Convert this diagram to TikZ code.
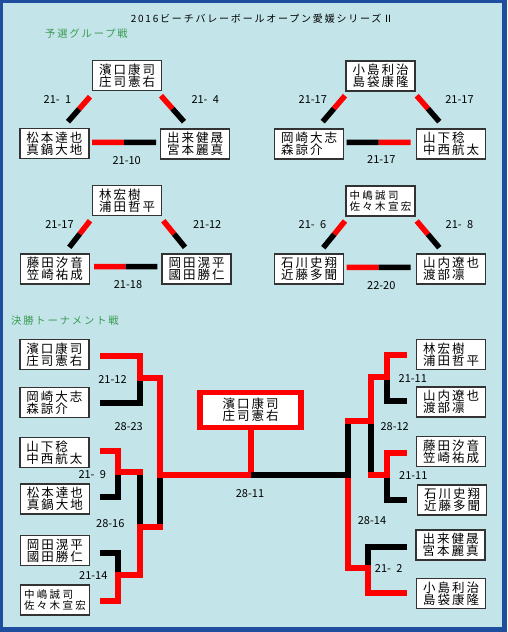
\documentclass[tikz,border=0pt]{standalone}
\usepackage{fontspec}
\setmainfont{Noto Sans CJK JP}
\newfontfamily\namefont[LetterSpace=16]{Noto Sans CJK JP}
\newfontfamily\namefontsm[LetterSpace=22]{Noto Sans CJK JP}
\newfontfamily\headfont[LetterSpace=18]{Noto Sans CJK JP}
\newfontfamily\numfont{Noto Sans CJK JP}
\usetikzlibrary{calc}
\definecolor{bgcyan}{HTML}{C3E5E9}
\definecolor{framebl}{HTML}{1F4E9E}
\definecolor{hdgreen}{HTML}{3A9A52}
\definecolor{wred}{HTML}{FF0000}
\newcommand{\linkRB}[2]{\draw[gred] (#1) -- ($(#1)!0.5!(#2)$); \draw[gblk] ($(#1)!0.5!(#2)$) -- (#2);}
\begin{document}
\begin{tikzpicture}[x=1pt,y=-1pt,
  namebox/.style={draw=black!80, line width=1.1pt, fill=white, minimum width=69pt,
    minimum height=30pt, inner sep=0pt, align=left,
    font=\namefont\fontsize{12.5}{12}\selectfont},
  nameboxsm/.style={namebox, font=\namefontsm\fontsize{10.5}{11.5}\selectfont},
  champbox/.style={draw=wred, line width=5.5pt, fill=white, minimum width=101pt,
    minimum height=34.7pt, inner sep=0pt, align=center,
    font=\namefont\fontsize{12.5}{12}\selectfont},
  score/.style={inner sep=0pt, font=\numfont\fontsize{11}{12}\selectfont},
  gred/.style={draw=wred, line width=5.5pt},
  gblk/.style={draw=black, line width=5.5pt},
  rline/.style={draw=wred, line width=6pt, line cap=rect, line join=miter},
  bline/.style={draw=black, line width=6pt, line cap=rect, line join=miter}]
\useasboundingbox (0,0) rectangle (507,632);
\fill[framebl] (0,0) rectangle (507,632);
\fill[bgcyan] (3,3) rectangle (502,627);

% headings
\node[inner sep=0pt, font=\headfont\fontsize{10}{12}\selectfont] (title) at (262,19) {2016ビーチバレーボールオープン愛媛シリーズⅡ};
\node[inner sep=0pt, anchor=west, text=hdgreen, font=\headfont\fontsize{10.3}{12}\selectfont] (h1) at (45,34) {予選グループ戦};
\node[inner sep=0pt, anchor=west, text=hdgreen, font=\headfont\fontsize{10.3}{12}\selectfont] (h2) at (11,321) {決勝トーナメント戦};

% ===== group stage =====
% group 1
\node[namebox] (g1t) at (127,75.5) {濱口康司\\庄司憲右};
\node[namebox] (g1l) at (54.5,143.5) {松本達也\\真鍋大地};
\node[namebox] (g1r) at (195,144) {出来健晟\\宮本麗真};
\coordinate (g1a) at (90,96.7); \coordinate (g1b) at (68,121.7);
\coordinate (g1c) at (161,95.7); \coordinate (g1d) at (184,121.7);
\coordinate (g1e) at (92,142.3); \coordinate (g1f) at (156,142.3);
\linkRB{g1a}{g1b} \linkRB{g1c}{g1d} \linkRB{g1e}{g1f}
\node[score] (s11) at (57.5,100) {21- \kern3pt 1};
\node[score] (s12) at (205.3,100) {21- \kern3pt 4};
\node[score] (s13) at (126.7,161) {21-10};

% group 2
\node[namebox] (g2t) at (380.5,76) {小島利治\\島袋康隆};
\node[namebox] (g2l) at (309,144) {岡崎大志\\森諒介};
\node[namebox] (g2r) at (451,144) {山下稔\\中西航太};
\coordinate (g2a) at (345,95.7); \coordinate (g2b) at (322.7,121.7);
\coordinate (g2c) at (416.7,95.7); \coordinate (g2d) at (439.3,121.7);
\coordinate (g2e) at (410.7,142.3); \coordinate (g2f) at (346.7,142.3);
\linkRB{g2a}{g2b} \linkRB{g2c}{g2d} \linkRB{g2e}{g2f}
\node[score] (s21) at (312.8,100) {21-17};
\node[score] (s22) at (459.5,100) {21-17};
\node[score] (s23) at (381.3,160) {21-17};

% group 3
\node[namebox] (g3t) at (127,200.5) {林宏樹\\浦田哲平};
\node[namebox] (g3l) at (55,269) {藤田汐音\\笠崎祐成};
\node[namebox] (g3r) at (196.5,269) {岡田滉平\\國田勝仁};
\coordinate (g3a) at (90,220.7); \coordinate (g3b) at (69.3,247.3);
\coordinate (g3c) at (163.3,220.7); \coordinate (g3d) at (185,247.3);
\coordinate (g3e) at (94,266.7); \coordinate (g3f) at (157.3,266.7);
\linkRB{g3a}{g3b} \linkRB{g3c}{g3d} \linkRB{g3e}{g3f}
\node[score] (s31) at (59.5,225) {21-17};
\node[score] (s32) at (207.2,225) {21-12};
\node[score] (s33) at (128,285) {21-18};

% group 4
\node[nameboxsm] (g4t) at (380.5,201) {中嶋誠司\\佐々木宣宏};
\node[namebox] (g4l) at (309,269) {石川史翔\\近藤多聞};
\node[namebox] (g4r) at (451,269) {山内遼也\\渡部凛};
\coordinate (g4a) at (345,221); \coordinate (g4b) at (323.3,247.7);
\coordinate (g4c) at (416.7,221); \coordinate (g4d) at (439.3,247.7);
\coordinate (g4e) at (346.7,267.3); \coordinate (g4f) at (410.7,267.3);
\linkRB{g4a}{g4b} \linkRB{g4c}{g4d} \linkRB{g4e}{g4f}
\node[score] (s41) at (312.5,225) {21- \kern3pt 6};
\node[score] (s42) at (459.5,225) {21- \kern3pt 8};
\node[score] (s43) at (381.3,286) {22-20};

% ===== tournament =====
\node[namebox] (tA) at (54.5,354.7) {濱口康司\\庄司憲右};
\node[namebox] (tB) at (54.5,402.3) {岡崎大志\\森諒介};
\node[namebox] (tC) at (54.5,452.3) {山下稔\\中西航太};
\node[namebox] (tD) at (55,499) {松本達也\\真鍋大地};
\node[namebox] (tE) at (55,550.7) {岡田滉平\\國田勝仁};
\node[nameboxsm] (tF) at (55,600) {中嶋誠司\\佐々木宣宏};
\node[namebox] (tG) at (451,354.3) {林宏樹\\浦田哲平};
\node[namebox] (tH) at (451,402) {山内遼也\\渡部凛};
\node[namebox] (tI) at (451,451.7) {藤田汐音\\笠崎祐成};
\node[namebox] (tJ) at (452,500) {石川史翔\\近藤多聞};
\node[namebox] (tK) at (450.5,545) {出来健晟\\宮本麗真};
\node[namebox] (tL) at (451,593.3) {小島利治\\島袋康隆};
\node[champbox] (champ) at (250.7,410) {濱口康司\\庄司憲右};

% bracket points
\coordinate (a0) at (103,356);   \coordinate (b0) at (103,403);
\coordinate (jab) at (139.7,378);
\coordinate (c0) at (103,451);   \coordinate (d0) at (103,497);
\coordinate (jcd) at (118,472);
\coordinate (e0) at (103,553.3); \coordinate (f0) at (103,601);
\coordinate (jef) at (118,575);
\coordinate (jcdef) at (139.5,526.7);
\coordinate (jl) at (160,474.5);
\coordinate (g0) at (404.3,354.5); \coordinate (h0) at (404.3,401.3);
\coordinate (jgh) at (386.5,376.7);
\coordinate (i0) at (404.3,453);   \coordinate (j0) at (404.3,499.5);
\coordinate (jij) at (386.5,474.5);
\coordinate (jghij) at (370.5,421.2);
\coordinate (k0) at (403.7,546.8); \coordinate (l0) at (403.7,593.2);
\coordinate (jkl) at (367.5,567.8);
\coordinate (jr) at (348.3,474.5);

% black (losing) segments
\draw[bline] (jab) |- (b0);
\draw[bline] (jcd) |- (d0);
\draw[bline] (e0) -| (jef);
\draw[bline] (jcd -| jcdef) -- (jcdef);
\draw[bline] (jl) -- (jl |- jcdef);
\draw[bline] (jgh) |- (h0);
\draw[bline] (jij) |- (j0);
\draw[bline] (k0) -| (jkl);
\draw[bline] (jghij) -- (jghij |- jij);
\draw[bline] (jr |- jghij) -- (jr);

% red (winning) segments
\draw[rline] (a0) -| (jab);
\draw[rline] (jab) -| (jl) -- (jl -| champ.south) -- (champ.south);
\draw[rline] (c0) -| (jcd) -- (jcd -| jcdef);
\draw[rline] (f0) -| (jef);
\draw[rline] (jef) -| (jcdef) -- (jcdef -| jl);
\draw[rline] (g0) -| (jgh);
\draw[rline] (jgh) -| (jghij) -- (jghij -| jr);
\draw[rline] (i0) -| (jij);
\draw[rline] (jij) -- (jij -| jghij);
\draw[rline] (l0) -| (jkl);
\draw[rline] (jkl) -| (jr);

% final (right finalist lost)
\draw[bline] (jr) -- ($(jr -| champ.south)+(3,0)$);

% tournament scores
\node[score] (t1) at (112.5,380) {21-12};
\node[score] (t2) at (128.7,426.7) {28-23};
\node[score] (t3) at (92.3,475) {21- \kern3pt 9};
\node[score] (t4) at (110.3,524) {28-16};
\node[score] (t5) at (93.3,575.7) {21-14};
\node[score] (t6) at (250,493.3) {28-11};
\node[score] (t7) at (412.8,379) {21-11};
\node[score] (t8) at (394.7,426.7) {28-12};
\node[score] (t9) at (413.3,475.7) {21-11};
\node[score] (t10) at (372,520.7) {28-14};
\node[score] (t11) at (388.7,568.3) {21- \kern3pt 2};
\end{tikzpicture}
\end{document}
